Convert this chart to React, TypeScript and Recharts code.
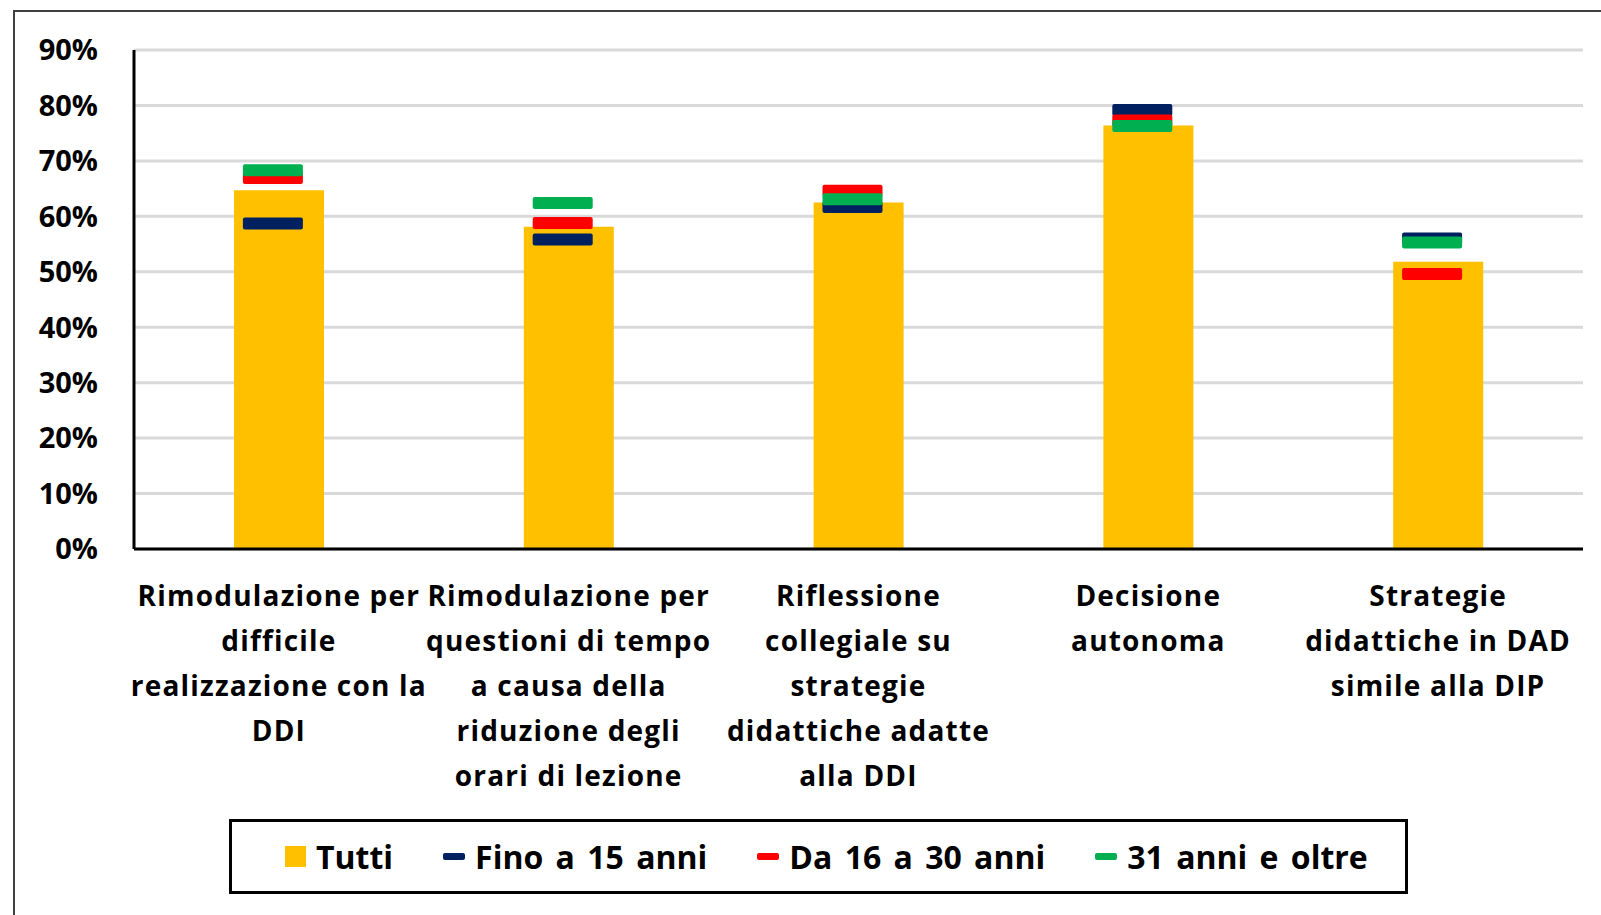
import {
  ComposedChart, Bar, Scatter, XAxis, YAxis, CartesianGrid, Legend,
} from "recharts";

const FONT = "'Open Sans', 'Noto Sans', sans-serif";

const categories = [
  "Rimodulazione per difficile realizzazione con la DDI",
  "Rimodulazione per questioni di tempo a causa della riduzione degli orari di lezione",
  "Riflessione collegiale su strategie didattiche adatte alla DDI",
  "Decisione autonoma",
  "Strategie didattiche in DAD simile alla DIP",
];

const categoryLines = [
  ["Rimodulazione per", "difficile", "realizzazione con la", "DDI"],
  ["Rimodulazione per", "questioni di tempo", "a causa della", "riduzione degli", "orari di lezione"],
  ["Riflessione", "collegiale su", "strategie", "didattiche adatte", "alla DDI"],
  ["Decisione", "autonoma"],
  ["Strategie", "didattiche in DAD", "simile alla DIP"],
];

const tutti    = [64.7, 58.1, 62.5, 76.4, 51.8];
const fino15   = [58.7, 55.8, 61.7, 79.2, 56.0];
const da16a30  = [66.9, 58.8, 64.6, 77.3, 49.6];
const oltre31  = [68.3, 62.4, 63.1, 76.3, 55.3];

const yTicks = [0, 10, 20, 30, 40, 50, 60, 70, 80, 90];

const series = [
  { key: "tutti",   label: "Tutti",            color: "#FFC000" },
  { key: "fino15",  label: "Fino a 15 anni",   color: "#002060" },
  { key: "da16a30", label: "Da 16 a 30 anni",  color: "#FF0000" },
  { key: "oltre31", label: "31 anni e oltre",  color: "#00B050" },
];

const data = categories.map((name, i) => ({
  name,
  tutti: tutti[i],
  fino15: fino15[i],
  da16a30: da16a30[i],
  oltre31: oltre31[i],
}));

// short rounded dash centred (slightly left) on the category
const dash = (color: string) => (props: any) => {
  const { cx, cy } = props;
  if (cx == null || cy == null) return <g />;
  return <rect x={cx - 36} y={cy - 6} width={60} height={12} rx={2} fill={color} />;
};

function CategoryTick({ x, y, payload }: any) {
  const idx = categories.indexOf(payload.value);
  const lines = categoryLines[idx] ?? [payload.value];
  return (
    <text
      x={x} y={y + 57} textAnchor="middle" fill="#000"
      fontFamily={FONT} fontWeight={700} fontSize={28} letterSpacing={1.2}
    >
      {lines.map((l, i) => (
        <tspan key={i} x={x} dy={i === 0 ? 0 : 45}>{l}</tspan>
      ))}
    </text>
  );
}

function LegendBox() {
  return (
    <div
      style={{
        width: 1179, height: 75, border: "3px solid #000", boxSizing: "border-box",
        display: "flex", alignItems: "center", paddingLeft: 53,
        fontFamily: FONT, fontWeight: 700, fontSize: 32, color: "#000", wordSpacing: 4,
      }}
    >
      {series.map((s) => (
        <div key={s.key} style={{ display: "flex", alignItems: "center", marginRight: 50 }}>
          {s.key === "tutti" ? (
            <span style={{ width: 21, height: 21, background: s.color, display: "inline-block" }} />
          ) : (
            <span style={{ width: 22, height: 7, borderRadius: 2, background: s.color, display: "inline-block" }} />
          )}
          <span style={{ marginLeft: 10, whiteSpace: "nowrap" }}>{s.label}</span>
        </div>
      ))}
    </div>
  );
}

export default function App() {
  return (
    <div style={{ position: "absolute", left: 0, top: 0, width: 1601, height: 915, background: "#fff", overflow: "hidden" }}>
      <div style={{ position: "absolute", left: 13, top: 10, right: -10, bottom: -10, borderLeft: "2px solid #404040", borderTop: "2px solid #404040" }} />
      <ComposedChart
        width={1601}
        height={915}
        data={data}
        margin={{ top: 50, right: 18, bottom: 246, left: 0 }}
        style={{ position: "absolute", left: 0, top: 0 }}
      >
        <CartesianGrid vertical={false} stroke="#D9D9D9" strokeWidth={3} />
        <XAxis
          dataKey="name"
          height={120}
          axisLine={{ stroke: "#000", strokeWidth: 3 }}
          tickLine={false}
          tickSize={0}
          tickMargin={0}
          interval={0}
          tick={<CategoryTick />}
        />
        <YAxis
          width={134}
          domain={[0, 90]}
          ticks={yTicks}
          tickFormatter={(v) => `${v}%`}
          axisLine={{ stroke: "#000", strokeWidth: 3 }}
          tickLine={false}
          tickSize={0}
          tickMargin={36}
          tick={{ fill: "#000", fontSize: 29, fontWeight: 700, fontFamily: FONT }}
          interval={0}
        />
        <Legend
          layout="horizontal"
          verticalAlign="middle"
          align="center"
          wrapperStyle={{ left: 229, top: 819, width: 1179 }}
          content={() => <LegendBox />}
        />
        <Bar dataKey="tutti" name="Tutti" fill="#FFC000" barSize={90} isAnimationActive={false} />
        <Scatter dataKey="fino15" name="Fino a 15 anni" fill="#002060" shape={dash("#002060")} isAnimationActive={false} />
        <Scatter dataKey="da16a30" name="Da 16 a 30 anni" fill="#FF0000" shape={dash("#FF0000")} isAnimationActive={false} />
        <Scatter dataKey="oltre31" name="31 anni e oltre" fill="#00B050" shape={dash("#00B050")} isAnimationActive={false} />
      </ComposedChart>
    </div>
  );
}
